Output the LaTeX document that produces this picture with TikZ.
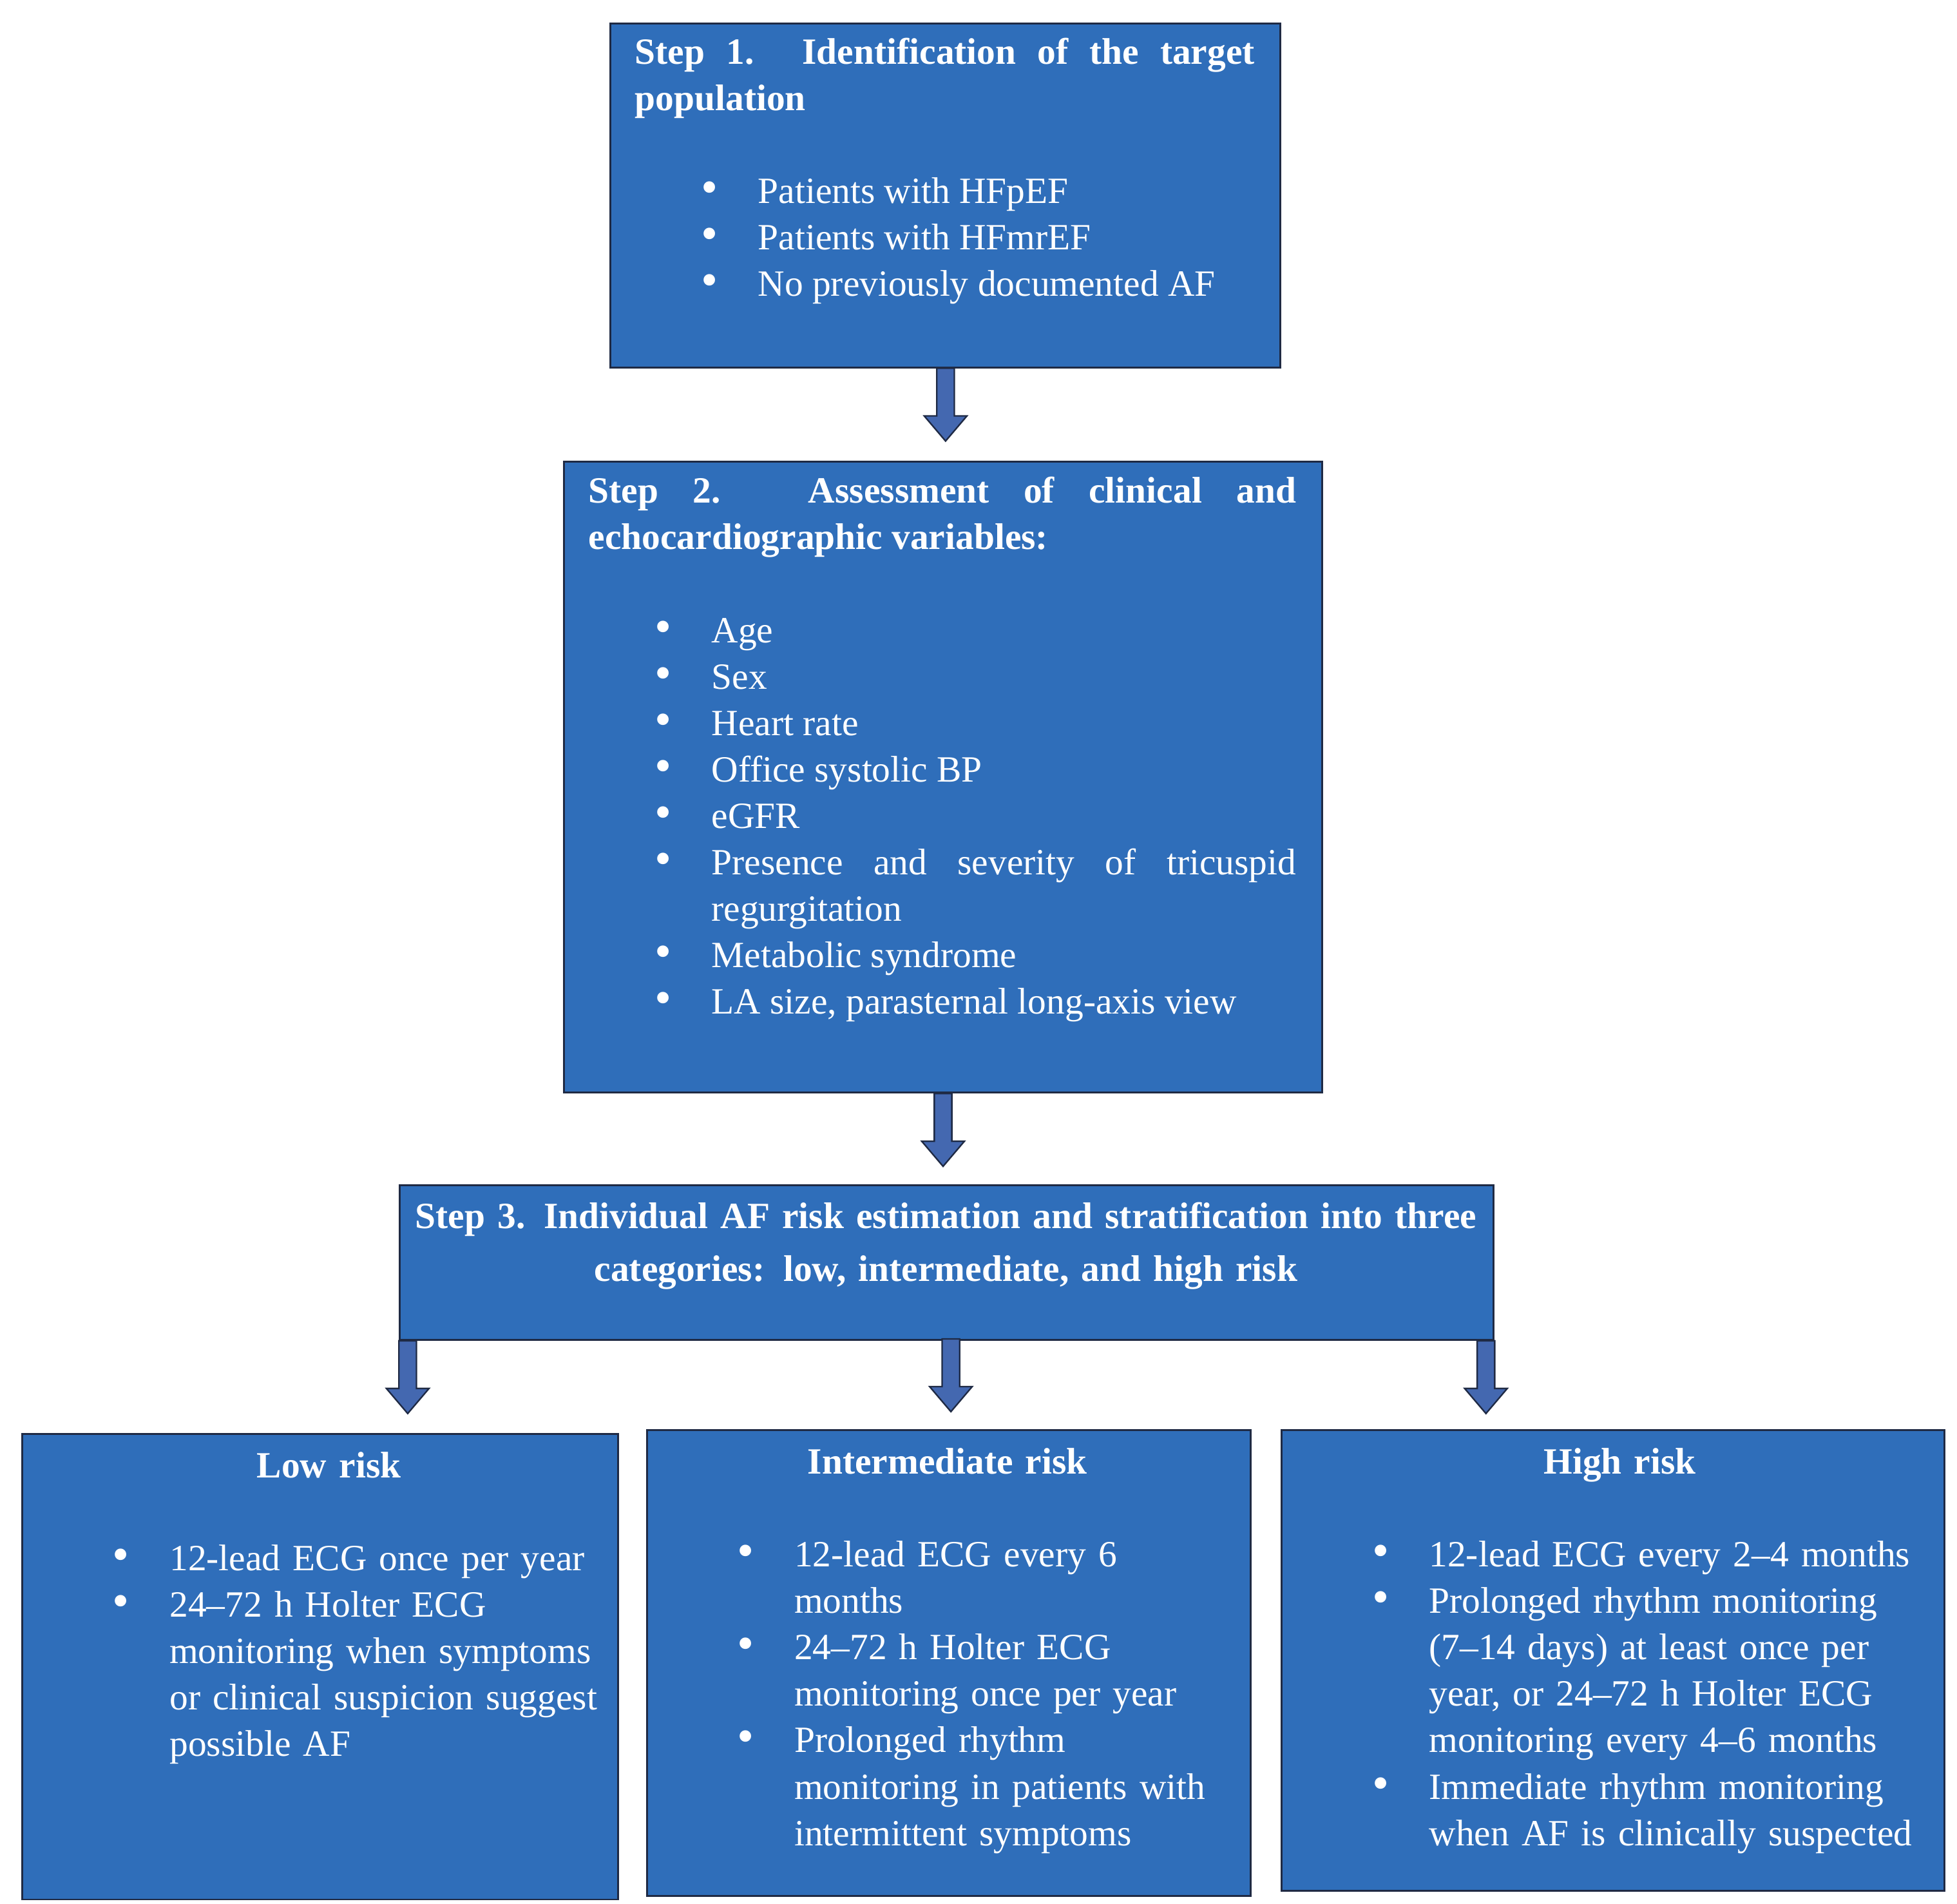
\documentclass[tikz,border=0pt]{standalone}
\usepackage{fontspec}
\setmainfont{Liberation Serif}
\usepackage{enumitem}
\definecolor{boxblue}{HTML}{2F6EBA}
\definecolor{edge}{HTML}{1F2A44}
\definecolor{arrblue}{HTML}{4468B0}
\setlist[itemize]{label=\scalebox{1.3}{\textbullet},leftmargin=98pt,labelsep=32pt,itemsep=0pt,topsep=0pt,parsep=0pt,partopsep=0pt}
\hyphenpenalty=10000 \exhyphenpenalty=10000
\begin{document}
\begin{tikzpicture}[x=1pt,y=-1pt,
  box/.style={draw=edge,line width=1.5pt,fill=boxblue,inner sep=0pt},
  txt/.style={anchor=north west,inner sep=0pt,text=white,font=\fontsize{29.5}{37}\selectfont},
  barrow/.pic={\draw[draw=edge,fill=arrblue,line width=1.2pt,line join=miter]
     (-7,0) -- (-7,38) -- (-17,38) -- (0,58) -- (17,38) -- (7,38) -- (7,0) -- cycle;}]
\useasboundingbox (0,0) rectangle (1560,1517);
% boxes
\node[box,minimum width=534pt,minimum height=274pt,anchor=north west] (b1) at (486,18) {};
\node[box,minimum width=604pt,minimum height=503pt,anchor=north west] (b2) at (449,367) {};
\node[box,minimum width=872pt,minimum height=123pt,anchor=north west] (b3) at (318,944) {};
\node[box,minimum width=475pt,minimum height=371pt,anchor=north west] (low) at (17,1142) {};
\node[box,minimum width=481pt,minimum height=371pt,anchor=north west] (mid) at (515,1139) {};
\node[box,minimum width=528pt,minimum height=367pt,anchor=north west] (high) at (1021,1139) {};
% texts
\node[txt,text width=494pt,align=justify] (t1) at (506,30) {\bfseries Step 1. Identification of the target population\par\vspace{37pt}\mdseries
\begin{itemize}\item Patients with HFpEF\item Patients with HFmrEF\item No previously documented AF\end{itemize}};
\node[txt,text width=564pt,align=justify] (t2) at (469,380) {\bfseries Step 2. Assessment of clinical and echocardiographic variables:\par\vspace{37pt}\mdseries
\begin{itemize}\item Age\item Sex\item Heart rate\item Office systolic BP\item eGFR\item Presence and severity of tricuspid regurgitation\item Metabolic syndrome\item LA size, parasternal long-axis view\end{itemize}};
\node[txt,anchor=north,align=center,text width=860pt,font=\fontsize{29.5}{42}\selectfont\bfseries] (t3) at (754,958) {Step 3. Individual AF risk estimation and stratification into three\\categories: low, intermediate, and high risk};
\node[txt,text width=450pt] (t4) at (37,1157) {\centering\bfseries Low risk\par\vspace{37pt}\mdseries\raggedright
\begin{itemize}[rightmargin=6pt]\item 12-lead ECG once per year\item 24--72 h Holter ECG monitoring when symptoms or clinical suspicion suggest possible AF\end{itemize}};
\node[txt,text width=440pt] (t5) at (535,1154) {\centering\bfseries Intermediate risk\par\vspace{37pt}\mdseries\raggedright
\begin{itemize}[rightmargin=8pt]\item 12-lead ECG every 6 months\item 24--72 h Holter ECG monitoring once per year\item Prolonged rhythm monitoring in patients with intermittent symptoms\end{itemize}};
\node[txt,text width=500pt] (t6) at (1041,1154) {\centering\bfseries High risk\par\vspace{37pt}\mdseries\raggedright
\begin{itemize}[rightmargin=10pt]\item 12-lead ECG every 2--4 months\item Prolonged rhythm monitoring (7--14 days) at least once per year, or 24--72 h Holter ECG monitoring every 4--6 months\item Immediate rhythm monitoring when AF is clinically suspected\end{itemize}};
% arrows
\coordinate (a0) at (b1.south);
\coordinate (a1) at (b2.south);
\coordinate (a2) at ([xshift=7pt]b3.south west);
\coordinate (a3) at (758,1067);
\coordinate (a4) at ([xshift=-7pt]b3.south east);
\foreach \c in {a0,a1,a2,a3,a4}{\pic at (\c) {barrow};}
\end{tikzpicture}
\end{document}
